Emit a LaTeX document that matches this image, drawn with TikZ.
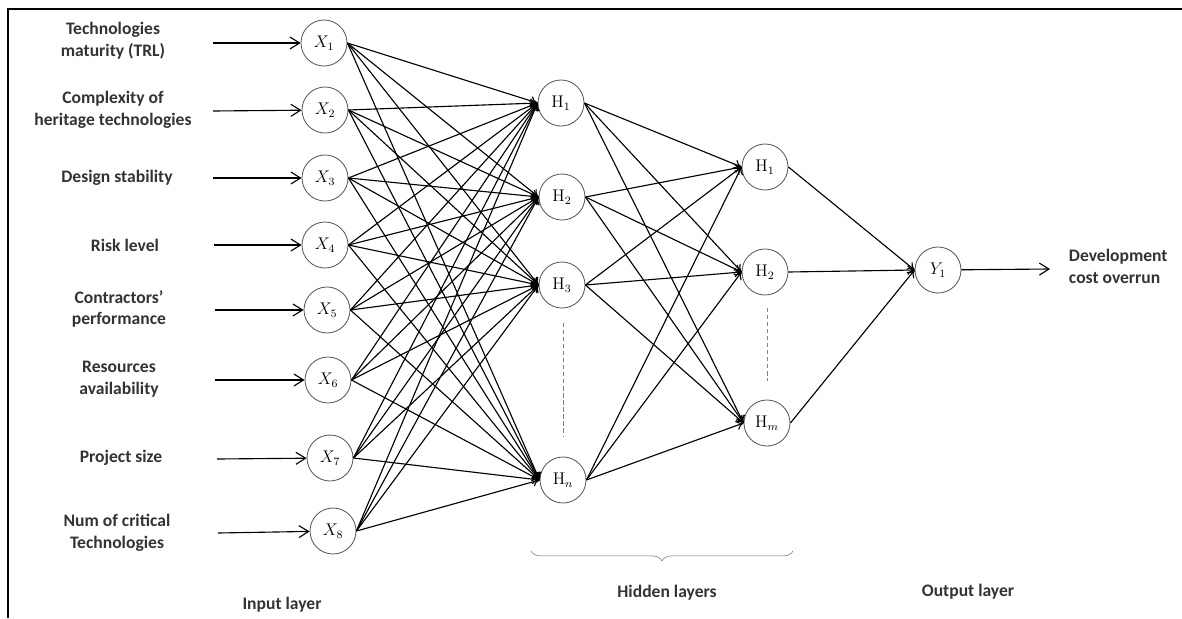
\documentclass[tikz,border=0pt]{standalone}
\usepackage[no-math]{fontspec}
\setmainfont{Carlito}
\usetikzlibrary{arrows.meta,decorations.pathreplacing}

\begin{document}
\begin{tikzpicture}[x=0.025cm,y=-0.025cm,
	neuron/.style={circle,draw=black!65,semithick,minimum size=1.15cm,inner sep=0pt,font=\fontsize{12}{14}\selectfont},
	feature/.style={align=center,text=black!80,font=\fontsize{12.5}{15.6}\selectfont\bfseries},
	feed/.style={thick,-{Straight Barb[length=2.4mm,width=3mm]}},
	link/.style={thick,-{To[length=1.8mm,width=2.4mm]}},
	gap/.style={densely dashed,black!50}]
	\useasboundingbox (0,0) rectangle (1182,618);
	\draw [thick] (8,618) -- (8,9) -- (1182,9);

	% input layer
	\begin{scope}[every node/.style={neuron}]
	\node (X1) at (324,43) {$X_1$};
	\node (X2) at (325,110) {$X_2$};
	\node (X3) at (325,178) {$X_3$};
	\node (X4) at (325,245) {$X_4$};
	\node (X5) at (327,310) {$X_5$};
	\node (X6) at (328,380) {$X_6$};
	\node (X7) at (330,458) {$X_7$};
	\node (X8) at (333,531) {$X_8$};
	\end{scope}

	\node [feature] (L1) at (113,41) {Technologies\\maturity (TRL)};
	\node [feature] (L2) at (113,110) {Complexity of\\heritage technologies};
	\node [feature] (L3) at (117,178) {Design stability};
	\node [feature] (L4) at (125,245) {Risk level};
	\node [feature] (L5) at (119,309) {Contractors'\\performance};
	\node [feature] (L6) at (119,379) {Resources\\availability};
	\node [feature] (L7) at (121,458) {Project size};
	\node [feature] (L8) at (117,533) {Num of critical\\Technologies};

	\coordinate (I1) at (213,43);
	\coordinate (I2) at (213,111);
	\coordinate (I3) at (213,178);
	\coordinate (I4) at (214,245);
	\coordinate (I5) at (215,310);
	\coordinate (I6) at (215,380);
	\coordinate (I7) at (217,459);
	\coordinate (I8) at (218,533);
	\draw [feed] (I1) -- (X1);
	\draw [feed] (I2) -- (X2);
	\draw [feed] (I3) -- (X3);
	\draw [feed] (I4) -- (X4);
	\draw [feed] (I5) -- (X5);
	\draw [feed] (I6) -- (X6);
	\draw [feed] (I7) -- (X7);
	\draw [feed] (I8) -- (X8);

	% hidden layers
	\begin{scope}[every node/.style={neuron}]
	\node (H1) at (561,103) {$\mathrm{H}_{1}$};
	\node (H2) at (562,197) {$\mathrm{H}_{2}$};
	\node (H3) at (562,285) {$\mathrm{H}_{3}$};
	\node (Hn) at (563,480) {$\mathrm{H}_{n}$};
	\node (K1) at (765,167) {$\mathrm{H}_{1}$};
	\node (K2) at (765,272) {$\mathrm{H}_{2}$};
	\node (Km) at (767,423) {$\mathrm{H}_{m}$};
	\node (Y) at (938,270) {$Y_1$};
	\end{scope}

	\path [link] (X1.east) edge (H1.west) edge (H2.west) edge (H3.west) edge (Hn.west);
	\path [link] (X2.east) edge (H1.west) edge (H2.west) edge (H3.west) edge (Hn.west);
	\path [link] (X3.east) edge (H1.west) edge (H2.west) edge (H3.west) edge (Hn.west);
	\path [link] (X4.east) edge (H1.west) edge (H2.west) edge (H3.west) edge (Hn.west);
	\path [link] (X5.east) edge (H1.west) edge (H2.west) edge (H3.west) edge (Hn.west);
	\path [link] (X6.east) edge (H1.west) edge (H2.west) edge (H3.west) edge (Hn.west);
	\path [link] (X7.east) edge (H1.west) edge (H2.west) edge (H3.west) edge (Hn.west);
	\path [link] (X8.east) edge (H1.west) edge (H2.west) edge (H3.west) edge (Hn.west);

	\path [link] (H1.east) edge (K1.west) edge (K2.west) edge (Km.west);
	\path [link] (H2.east) edge (K1.west) edge (K2.west) edge (Km.west);
	\path [link] (H3.east) edge (K1.west) edge (K2.west) edge (Km.west);
	\path [link] (Hn.east) edge (K1.west) edge (K2.west) edge (Km.west);

	\path [link] (K1.east) edge (Y.west);
	\path [link] (K2.east) edge (Y.west);
	\path [link] (Km.east) edge (Y.west);

	\coordinate (D1) at (563,323);
	\coordinate (D2) at (563,437);
	\coordinate (D3) at (767,308);
	\coordinate (D4) at (767,381);
	\draw [gap] (D1) -- (D2);
	\draw [gap] (D3) -- (D4);

	% output
	\coordinate (O) at (1050,269);
	\draw [feed] (Y) -- (O);
	\node [feature,align=left,anchor=west] (out) at (1064,266) {Development\\cost overrun};

	% layer names
	\coordinate (B1) at (531,551);
	\coordinate (B2) at (793,551);
	\draw [black!55,decorate,decoration={brace,mirror,amplitude=7pt}] (B1) -- (B2);
	\node [feature] (inlayer) at (282,605) {Input layer};
	\node [feature] (hidlayer) at (667,593) {Hidden layers};
	\node [feature] (outlayer) at (968,592) {Output layer};
\end{tikzpicture}
\end{document}
